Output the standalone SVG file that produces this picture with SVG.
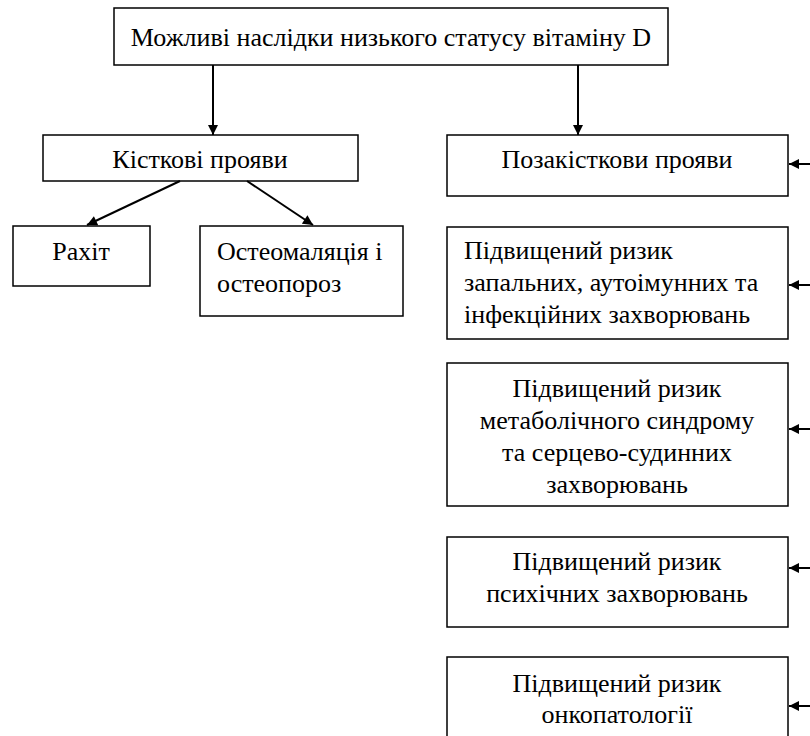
<svg xmlns="http://www.w3.org/2000/svg" width="810" height="736" viewBox="0 0 810 736">
<defs>
<marker id="ah" viewBox="0 0 10 10" refX="10" refY="5" markerWidth="11" markerHeight="10" markerUnits="userSpaceOnUse" orient="auto">
<path d="M0,0 L10,5 L0,10 Z" fill="#000"/>
</marker>
</defs>
<style>
.box{fill:#fff;stroke:#000;stroke-width:1.5}
.c{text-anchor:middle}
.conn line{stroke:#000;stroke-width:2;marker-end:url(#ah)}
</style>
<rect width="810" height="736" fill="#fff"/>
<g font-family="Liberation Serif" font-size="26" fill="#000">
<g id="root"><rect class="box" x="114" y="8" width="554" height="57"/><text class="c" x="391" y="46">Можливі наслідки низького статусу вітаміну D</text></g>
<g id="bone"><rect class="box" x="43" y="135" width="315" height="46"/><text class="c" x="200" y="168">Кісткові прояви</text></g>
<g id="rickets"><rect class="box" x="13" y="226" width="137" height="60"/><text class="c" x="81" y="260">Рахіт</text></g>
<g id="osteo"><rect class="box" x="200" y="226" width="203" height="90"/><text x="217" y="260">Остеомаляція і</text><text x="217" y="292">остеопороз</text></g>
<g id="extra"><rect class="box" x="447" y="135" width="341" height="61"/><text class="c" x="617" y="168">Позакісткови прояви</text></g>
<g id="inflam"><rect class="box" x="447" y="227" width="341" height="112"/><text x="464" y="259">Підвищений ризик</text><text x="464" y="291">запальних, аутоімунних та</text><text x="464" y="323">інфекційних захворювань</text></g>
<g id="metab"><rect class="box" x="447" y="363" width="341" height="143"/><text class="c" x="617" y="397">Підвищений ризик</text><text class="c" x="617" y="429">метаболічного синдрому</text><text class="c" x="617" y="461">та серцево-судинних</text><text class="c" x="617" y="493">захворювань</text></g>
<g id="psych"><rect class="box" x="447" y="537" width="341" height="90"/><text class="c" x="617" y="570">Підвищений ризик</text><text class="c" x="617" y="602">психічних захворювань</text></g>
<g id="onco"><rect class="box" x="447" y="657" width="341" height="100"/><text class="c" x="617" y="692">Підвищений ризик</text><text class="c" x="617" y="723">онкопатології</text></g>
</g>
<g class="conn" id="connectors">
<line x1="213" y1="65" x2="213" y2="135"/>
<line x1="578" y1="65" x2="578" y2="135"/>
<line x1="180" y1="181" x2="87" y2="225"/>
<line x1="247" y1="181" x2="313" y2="225"/>
<line x1="810" y1="164" x2="789" y2="164"/>
<line x1="810" y1="285" x2="789" y2="285"/>
<line x1="810" y1="429" x2="789" y2="429"/>
<line x1="810" y1="568" x2="789" y2="568"/>
<line x1="810" y1="706" x2="789" y2="706"/>
</g>
</svg>
